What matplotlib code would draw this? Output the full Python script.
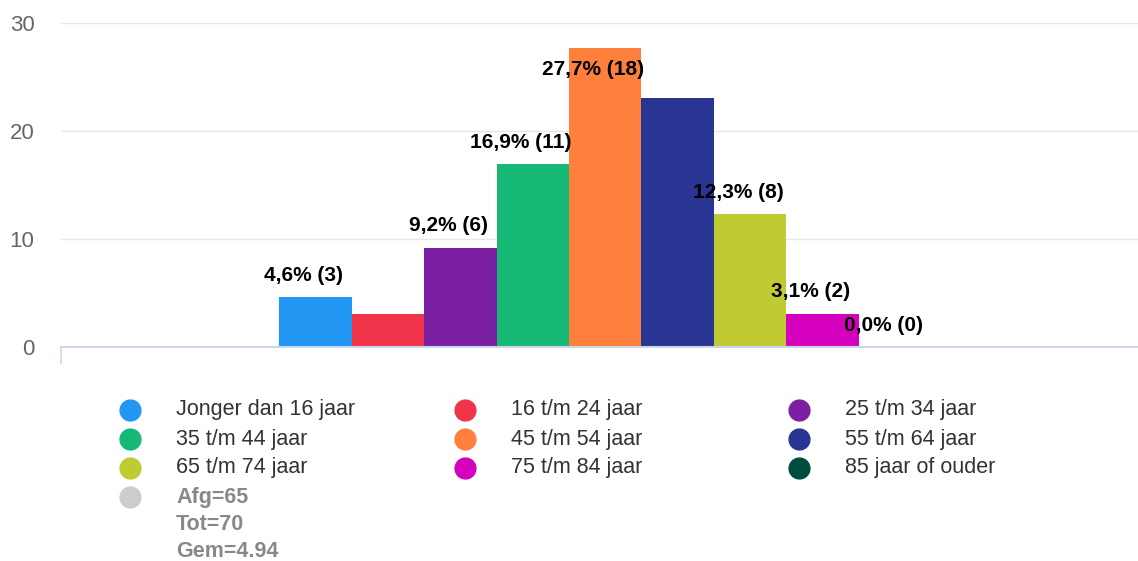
import matplotlib
matplotlib.use("Agg")
import matplotlib.pyplot as plt
from matplotlib.lines import Line2D

plt.rcParams['font.family'] = ['Liberation Sans', 'DejaVu Sans']

# data
categories = ["Jonger dan 16 jaar", "16 t/m 24 jaar", "25 t/m 34 jaar",
              "35 t/m 44 jaar", "45 t/m 54 jaar", "55 t/m 64 jaar",
              "65 t/m 74 jaar", "75 t/m 84 jaar", "85 jaar of ouder"]
percentages = [4.6, 3.1, 9.2, 16.9, 27.7, 23.1, 12.3, 3.1, 0.0]
counts = [3, 2, 6, 11, 18, 15, 8, 2, 0]
show_label = [True, False, True, True, True, False, True, True, True]
colors = ["#2196f3", "#f2344a", "#7b1fa2", "#16b876", "#ff7f3c",
          "#283593", "#c0ca33", "#d500bd", "#004d40"]
summary_label = "Afg=65\nTot=70\nGem=4.94"
summary_color = "#cccccc"
y_ticks = [0, 10, 20, 30]

W, H = 1138, 561
fig = plt.figure(figsize=(W / 100, H / 100), dpi=100)

# plot area in pixels
left_px, right_px, top_px, base_px = 61, 1138, 23, 347
ax = fig.add_axes([left_px / W, (H - base_px) / H,
                   (right_px - left_px) / W, (base_px - top_px) / H])

bar_px = 72.45
first_px = 279.2
xs = list(range(len(categories)))
ax.bar(xs, percentages, width=1.0, align='edge', color=colors, linewidth=0, zorder=2)
ax.set_xlim((left_px - first_px) / bar_px, (right_px - first_px) / bar_px)
ax.set_ylim(0, 30)

ax.set_yticks(y_ticks)
ax.tick_params(axis='y', length=0, pad=19, labelsize=16, labelcolor='#666666')
ax.yaxis.grid(True, color='#e6e6e6', linewidth=1)
ax.set_axisbelow(True)

ax.set_xticks([ax.get_xlim()[0]])
ax.set_xticklabels([])
ax.tick_params(axis='x', length=12.2, width=1.2, color='#ccd6eb', direction='out')

for side in ['top', 'right', 'left']:
    ax.spines[side].set_visible(False)
ax.spines['bottom'].set_color('#ccd6eb')
ax.spines['bottom'].set_linewidth(1.5)

for x, p, n, show in zip(xs, percentages, counts, show_label):
    if not show:
        continue
    txt = ("%.1f" % p).replace('.', ',') + "% (" + str(n) + ")"
    dy = 15.8 if p + 3 < 30 else -15.8
    ax.annotate(txt, xy=(x + 0.5, p), xytext=(-8.6, dy), textcoords='offset points',
                ha='center', va='center', fontsize=15, fontweight='bold',
                color='black', annotation_clip=False, zorder=3)

# legend, three columns, filled row by row
col_x = [130, 465, 799]
row_y0, row_dy, text_dx = 410, 29, 46
entries = list(zip(categories, colors)) + [(summary_label, summary_color)]
for i, (label, c) in enumerate(entries):
    r, col = divmod(i, 3)
    mx, my = col_x[col], row_y0 + r * row_dy
    fig.add_artist(Line2D([mx / W], [1 - my / H], marker='o', markersize=15,
                          color=c, linestyle='none', transform=fig.transFigure))
    if label == summary_label:
        fig.text((mx + text_dx) / W, 1 - (my - 10) / H, label, ha='left', va='top',
                 fontsize=15.5, fontweight='bold', color='#888888', linespacing=1.38)
    else:
        fig.text((mx + text_dx) / W, 1 - my / H, label, ha='left', va='center',
                 fontsize=15.5, color='#333333')

fig.savefig('out.png', dpi=100)
